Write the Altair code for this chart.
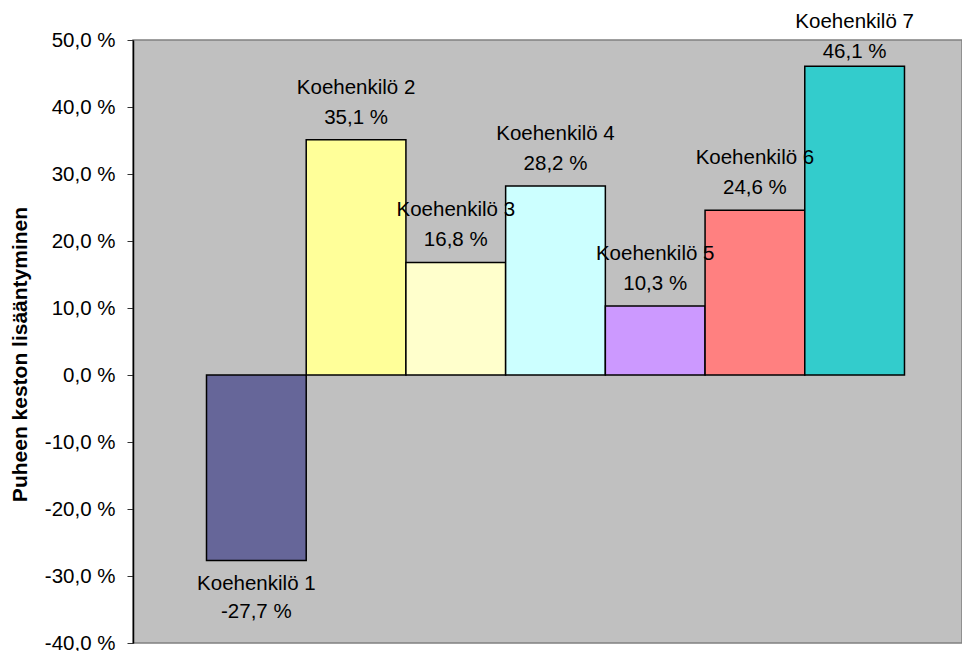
import altair as alt
import pandas as pd

names = ["Koehenkilö 1", "Koehenkilö 2", "Koehenkilö 3", "Koehenkilö 4",
         "Koehenkilö 5", "Koehenkilö 6", "Koehenkilö 7"]
values = [-27.7, 35.1, 16.8, 28.2, 10.3, 24.6, 46.1]
colors = ["#666699", "#FFFF99", "#FFFFCC", "#CCFFFF", "#CC99FF", "#FF8080", "#33CCCC"]
y_ticks = [-40, -30, -20, -10, 0, 10, 20, 30, 40, 50]
y_title = "Puheen keston lisääntyminen"

df = pd.DataFrame({"name": names, "v": values, "color": colors})
df["vlabel"] = [f"{v:.1f}".replace(".", ",") + " %" for v in values]

FONT = "Liberation Sans"
x_enc = alt.X("name:N", sort=names,
              scale=alt.Scale(paddingInner=0, paddingOuter=0.657, align=0.561),
              axis=None)
y_scale = alt.Scale(domain=[-40, 50], nice=False, zero=False)

label_expr = ("(datum.value < 0 ? '-' : '') + "
              "replace(format(abs(datum.value), '.1f'), '.', ',') + ' %'")

base = alt.Chart(df)

bars = base.mark_bar(stroke="black", strokeWidth=1.5).encode(
    x=x_enc,
    y=alt.Y("v:Q", scale=y_scale, title=y_title,
            axis=alt.Axis(values=y_ticks, labelExpr=label_expr, grid=False,
                          domainColor="black", domainWidth=1.5,
                          tickColor="#333333", tickSize=6, tickWidth=1,
                          labelPadding=12, labelFontSize=20.5, labelFont=FONT,
                          labelColor="black",
                          titleFont=FONT, titleFontSize=21, titleFontWeight="bold",
                          titleColor="black", titleAngle=270, titleX=-113,
                          titleY=314, titleAlign="center", titleBaseline="middle")),
    y2=alt.datum(0),
    color=alt.Color("color:N", scale=None),
)

pos = base.transform_filter("datum.v >= 0").transform_calculate(lp="min(datum.v, 44.9)")
neg = base.transform_filter("datum.v < 0").transform_calculate(lp="datum.v")

def txt(src, field, dy):
    return src.mark_text(dy=dy, baseline="alphabetic", align="center",
                         fontSize=20.5, font=FONT, color="black").encode(
        x=x_enc,
        y=alt.Y("lp:Q", scale=y_scale, title=y_title),
        text=f"{field}:N",
    )

chart = alt.layer(
    bars,
    txt(pos, "name", -46),
    txt(pos, "vlabel", -16),
    txt(neg, "name", 29),
    txt(neg, "vlabel", 57),
).properties(
    width=829, height=603,
    autosize=alt.AutoSizeParams(type="none"),
    padding={"left": 125, "top": 32, "right": 0, "bottom": 8},
    background="white",
).configure_view(fill="#C0C0C0", stroke="#808080", strokeWidth=1.5)

chart.save("out.html", embed_options={"renderer": "svg", "actions": False})
